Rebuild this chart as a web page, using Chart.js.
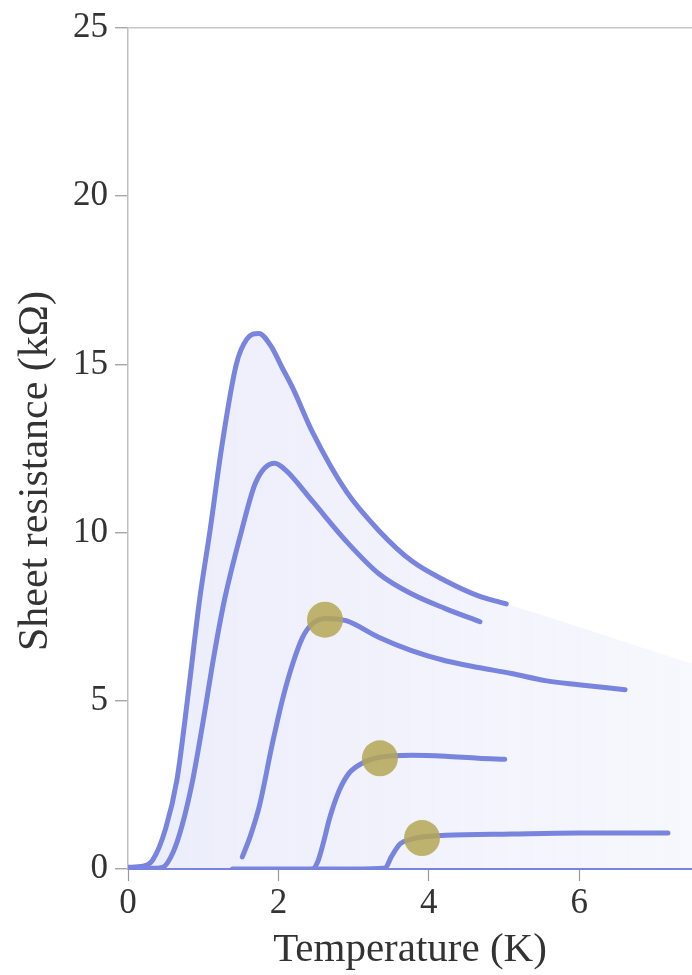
<!DOCTYPE html>
<html>
<head>
<meta charset="utf-8">
<script src="https://cdn.jsdelivr.net/npm/chart.js@4.4.0/dist/chart.umd.min.js"></script>
<style>
  html, body { margin: 0; padding: 0; background: #fff; overflow: hidden; }
  canvas { display: block; }
</style>
</head>
<body>
<canvas id="myChart" width="692" height="975"></canvas>
<script>
// temperature (K) / sheet resistance (kOhm) for each film
var tempA = [0.0, 0.2, 0.33, 0.5, 0.65, 0.8, 0.95, 1.09, 1.25, 1.44, 1.58, 1.74, 1.9, 2.05, 2.19, 2.45, 2.9, 3.34, 3.77, 4.22, 4.66, 5.03];
var resA  = [0.05, 0.08, 0.27, 1.2, 2.64, 5.2, 7.97, 10.05, 12.6, 15.0, 15.75, 15.92, 15.55, 14.9, 14.3, 13.0, 11.23, 10.05, 9.16, 8.57, 8.12, 7.88];

var tempB = [0.1, 0.3, 0.46, 0.6, 0.72, 0.86, 1.0, 1.14, 1.28, 1.51, 1.7, 1.95, 2.1, 2.45, 2.9, 3.34, 3.77, 4.22, 4.68];
var resB  = [0.0, 0.02, 0.05, 0.5, 1.3, 2.64, 4.4, 6.3, 7.97, 10.05, 11.5, 12.06, 11.85, 10.94, 9.75, 8.77, 8.18, 7.74, 7.35];

var tempC = [1.52, 1.63, 1.75, 1.92, 2.05, 2.19, 2.32, 2.45, 2.62, 2.9, 3.34, 3.77, 4.22, 4.66, 5.1, 5.55, 5.99, 6.61];
var resC  = [0.36, 1.0, 1.9, 3.73, 5.0, 6.1, 6.88, 7.29, 7.45, 7.38, 6.88, 6.49, 6.19, 5.99, 5.81, 5.6, 5.48, 5.33];

var tempD = [1.39, 2.0, 2.45, 2.52, 2.6, 2.68, 2.81, 2.94, 3.11, 3.35, 3.78, 4.22, 4.66, 5.01];
var resD  = [0.0, 0.0, 0.0, 0.2, 0.8, 1.5, 2.34, 2.85, 3.14, 3.32, 3.38, 3.35, 3.29, 3.26];

var tempE = [2.45, 3.0, 3.42, 3.5, 3.62, 3.76, 3.91, 4.22, 5.1, 5.99, 7.18];
var resE  = [0.0, 0.0, 0.03, 0.36, 0.75, 0.88, 0.95, 1.0, 1.04, 1.07, 1.07];

// onset markers
var dotT = [2.62, 3.35, 3.91];
var dotR = [7.41, 3.29, 0.92];

// shaded envelope continues past curve A to the edge
var tailT = [7.5];
var tailR = [6.1];

var xTicks = [0, 2, 4, 6];
var yTicks = [0, 5, 10, 15, 20, 25];

var lineColor = '#7884de';
var serif = "'Liberation Serif', 'DejaVu Serif', serif";

function pts(xs, ys) {
  return xs.map(function(x, i) { return { x: x, y: ys[i] }; });
}

function curve(xs, ys) {
  return {
    data: pts(xs, ys),
    borderColor: lineColor,
    borderWidth: 5,
    pointRadius: 0,
    fill: false,
    cubicInterpolationMode: 'monotone',
    borderCapStyle: 'round',
    borderJoinStyle: 'round',
    order: 1
  };
}

var envelope = {
  data: pts(tempA.concat(tailT), resA.concat(tailR)),
  borderWidth: 0,
  borderColor: 'rgba(0,0,0,0)',
  pointRadius: 0,
  cubicInterpolationMode: 'monotone',
  fill: 'origin',
  backgroundColor: function(c) {
    var area = c.chart.chartArea;
    if (!area) return 'rgba(122,134,224,0.12)';
    var g = c.chart.ctx.createLinearGradient(area.left, 0, area.right, 0);
    g.addColorStop(0, 'rgba(122,134,224,0.15)');
    g.addColorStop(1, 'rgba(122,134,224,0.06)');
    return g;
  },
  order: 2
};

var dots = {
  type: 'scatter',
  data: pts(dotT, dotR),
  pointRadius: 18,
  pointHoverRadius: 18,
  pointBackgroundColor: 'rgba(181,167,85,0.85)',
  pointBorderWidth: 0,
  showLine: false,
  order: 0
};

// y title drawn by hand so it sits where the original had it
var yTitle = {
  id: 'yTitle',
  afterDraw: function(chart) {
    var ctx = chart.ctx;
    ctx.save();
    ctx.translate(36, 471);
    ctx.rotate(-Math.PI / 2);
    ctx.font = '42px ' + serif;
    ctx.fillStyle = '#333';
    ctx.textAlign = 'center';
    ctx.textBaseline = 'middle';
    ctx.fillText('Sheet resistance (k\u03A9)', 0, 0);
    ctx.restore();
  }
};

var ctx = document.getElementById('myChart').getContext('2d');
var chart = new Chart(ctx, {
  type: 'line',
  data: {
    datasets: [envelope, curve(tempA, resA), curve(tempB, resB), curve(tempC, resC), curve(tempD, resD), curve(tempE, resE), dots]
  },
  options: {
    responsive: false,
    animation: false,
    layout: { autoPadding: false, padding: { top: 26, right: 0, left: 0, bottom: 0 } },
    plugins: { legend: { display: false }, tooltip: { enabled: false } },
    scales: {
      x: {
        type: 'linear',
        min: 0,
        max: 7.5,
        afterBuildTicks: function(s) { s.ticks = xTicks.map(function(v) { return { value: v }; }); },
        afterFit: function(s) { s.height = 106; s.paddingRight = 0; s.paddingLeft = 0; },
        ticks: { font: { family: serif, size: 35 }, color: '#333', padding: 2, maxRotation: 0 },
        grid: { color: 'rgba(0,0,0,0)', tickColor: '#999', tickLength: 12, tickWidth: 1.2 },
        border: { color: lineColor, width: 2 },
        title: { display: true, text: 'Temperature (K)', font: { family: serif, size: 41 }, color: '#333', padding: { top: 0, bottom: 0 } }
      },
      y: {
        min: 0,
        max: 25,
        afterBuildTicks: function(s) { s.ticks = yTicks.map(function(v) { return { value: v }; }); },
        afterFit: function(s) { s.width = 128; },
        ticks: { font: { family: serif, size: 35 }, color: '#333', padding: 7 },
        grid: {
          color: function(c) { return c.tick && c.tick.value === 25 ? '#c8c8c8' : 'rgba(0,0,0,0)'; },
          tickColor: '#999',
          tickLength: 13,
          lineWidth: 1.5,
          tickWidth: 1.2
        },
        border: { color: '#c0c0c0', width: 1.5 }
      }
    }
  },
  plugins: [yTitle]
});
</script>
</body>
</html>
